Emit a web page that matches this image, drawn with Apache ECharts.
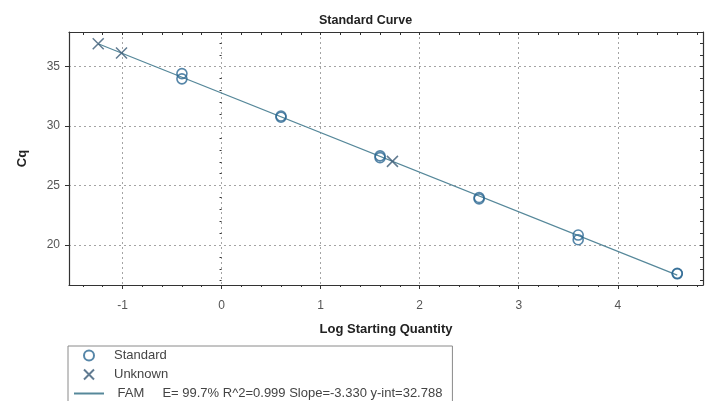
<!DOCTYPE html>
<html>
<head>
<meta charset="utf-8">
<script src="https://cdn.jsdelivr.net/npm/echarts@6/dist/echarts.min.js"></script>
<style>
  html, body { margin: 0; padding: 0; background: #fff; }
  #chart { width: 705px; height: 401px; }
</style>
</head>
<body>
<div id="chart"></div>
<script>
// Standards: log starting quantity and measured Cq (replicates)
const stdLogQty = [-0.4, -0.4, 0.6, 0.6, 1.6, 1.6, 2.6, 2.6, 3.6, 3.6, 4.6, 4.6];
const stdCq     = [34.42, 33.98, 30.85, 30.75, 27.50, 27.35, 24.00, 23.88, 20.84, 20.45, 17.62, 17.58];

// Unknowns placed on the fitted curve
const unkLogQty = [-1.245, -1.01, 1.725];
const unkCq     = [36.93, 36.15, 27.04];

// Fit results for FAM
const fitSlope = -3.330;
const fitIntercept = 32.788;
const fitEfficiency = 99.7;
const fitR2 = 0.999;

// Axis ranges and ticks
const xRange = [-1.54, 4.86];
const yRange = [16.64, 37.92];
const xMajorTicks = [-1, 0, 1, 2, 3, 4];
const yMajorTicks = [20, 25, 30, 35];
const xMinorTicks = [-1.4, -1.2, -0.8, -0.6, -0.4, -0.2, 0.2, 0.4, 0.6, 0.8, 1.2, 1.4, 1.6, 1.8,
                     2.2, 2.4, 2.6, 2.8, 3.2, 3.4, 3.6, 3.8, 4.2, 4.4, 4.6, 4.8];
const yMinorTicks = [17, 18, 19, 21, 22, 23, 24, 26, 27, 28, 29, 31, 32, 33, 34, 36, 37];

const allX = stdLogQty.concat(unkLogQty);
const lineX = [Math.min.apply(null, allX), Math.max.apply(null, allX)];
const fitLine = lineX.map(x => [x, fitSlope * x + fitIntercept]);

const statsText = 'E= ' + fitEfficiency.toFixed(1) + '% R^2=' + fitR2.toFixed(3) +
  ' Slope=' + fitSlope.toFixed(3) + ' y-int=' + fitIntercept.toFixed(3);

const font = 'Arial, "Liberation Sans", sans-serif';
const frameColor = '#333';
const gridLine = { show: true, lineStyle: { color: '#a4a4a4', type: [2, 3], width: 1 } };

function frameAxis(pos, range, ticks, opts) {
  return Object.assign({
    type: 'value', position: pos, min: range[0], max: range[1],
    axisLine: { show: true, onZero: false, lineStyle: { color: frameColor, width: 1.2 } },
    axisTick: { show: true, inside: true, length: 3, customValues: ticks, lineStyle: { color: frameColor } },
    axisLabel: { show: false },
    splitLine: { show: false }
  }, opts || {});
}

const chart = echarts.init(document.getElementById('chart'), null, { renderer: 'canvas' });
chart.setOption({
  animation: false,
  backgroundColor: '#fff',
  title: {
    text: 'Standard Curve', left: 314, top: 9,
    textStyle: { fontFamily: font, fontSize: 12.5, fontWeight: 'bold', color: '#222' }
  },
  grid: { left: 69, right: 2, top: 32, bottom: 116, containLabel: false },
  xAxis: [
    {
      type: 'value', position: 'bottom', min: xRange[0], max: xRange[1],
      name: 'Log Starting Quantity', nameLocation: 'middle', nameGap: 38,
      nameTextStyle: { fontFamily: font, fontSize: 13, fontWeight: 'bold', color: '#222' },
      axisLine: { show: true, onZero: false, lineStyle: { color: frameColor, width: 1.2 } },
      axisTick: { show: true, length: 4, customValues: xMajorTicks, lineStyle: { color: frameColor } },
      axisLabel: { customValues: xMajorTicks, margin: 15, fontFamily: font, fontSize: 12, color: '#555' },
      splitLine: gridLine
    },
    frameAxis('bottom', xRange, xMinorTicks, { axisLine: { show: false },
      axisTick: { show: true, length: 2, customValues: xMinorTicks, lineStyle: { color: frameColor } } }),
    frameAxis('top', xRange, xMajorTicks.concat(xMinorTicks))
  ],
  yAxis: [
    {
      type: 'value', position: 'left', min: yRange[0], max: yRange[1],
      name: 'Cq', nameLocation: 'middle', nameGap: 40, nameRotate: 90,
      nameTextStyle: { fontFamily: font, fontSize: 13, fontWeight: 'bold', color: '#222' },
      axisLine: { show: true, onZero: false, lineStyle: { color: frameColor, width: 1.2 } },
      axisTick: { show: true, length: 4, customValues: yMajorTicks, lineStyle: { color: frameColor } },
      axisLabel: { customValues: yMajorTicks, margin: 9, fontFamily: font, fontSize: 12, color: '#555' },
      splitLine: gridLine
    },
    frameAxis('left', yRange, yMinorTicks, { axisLine: { show: false },
      axisTick: { show: true, length: 2, customValues: yMinorTicks, lineStyle: { color: frameColor } } }),
    frameAxis('right', yRange, yMajorTicks.concat(yMinorTicks))
  ],
  legend: {
    orient: 'vertical', left: 68, top: 346, height: 80,
    borderColor: '#8a8a8a', borderWidth: 1, borderRadius: 0,
    padding: [3, 10, 8, 5], itemGap: 6, itemWidth: 30, itemHeight: 10,
    textStyle: { fontFamily: font, fontSize: 13, color: '#444', padding: [0, 0, 0, 5] },
    data: [
      { name: 'Standard' },
      { name: 'Unknown' },
      { name: 'FAM', itemStyle: { color: 'rgba(0,0,0,0)', borderWidth: 0, opacity: 0 } }
    ],
    formatter: name => name === 'FAM' ? ' FAM     ' + statsText : name
  },
  series: [
    {
      name: 'FAM', type: 'line', xAxisIndex: 0, yAxisIndex: 0,
      data: fitLine, symbol: 'none', z: 2,
      lineStyle: { color: '#56889a', width: 1.2 },
      itemStyle: { color: '#56889a' }
    },
    {
      name: 'Standard', type: 'scatter', xAxisIndex: 0, yAxisIndex: 0,
      data: stdLogQty.map((x, i) => [x, stdCq[i]]),
      symbol: 'circle', symbolSize: 10, z: 3,
      itemStyle: { color: 'rgba(0,0,0,0)', borderColor: '#2c6892', borderWidth: 1.6 }
    },
    {
      name: 'Unknown', type: 'scatter', xAxisIndex: 0, yAxisIndex: 0,
      data: unkLogQty.map((x, i) => [x, unkCq[i]]),
      symbol: 'path://M0,0L10,10M10,0L0,10', symbolSize: 11, z: 3,
      itemStyle: { color: 'rgba(0,0,0,0)', borderColor: '#3a5a76', borderWidth: 1.5 }
    }
  ]
});
</script>
</body>
</html>
